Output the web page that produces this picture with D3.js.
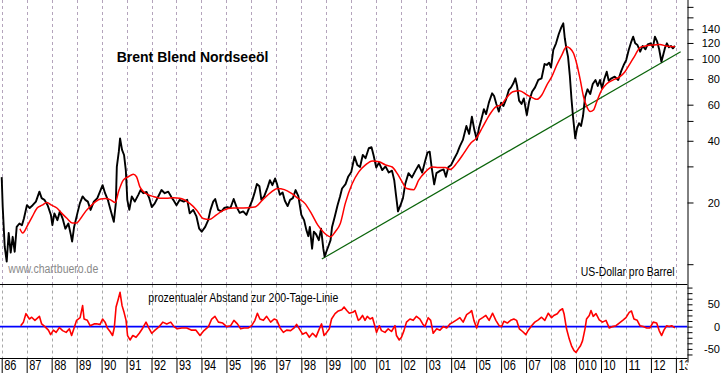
<!DOCTYPE html>
<html><head><meta charset="utf-8">
<script src="https://cdn.jsdelivr.net/npm/d3@7"></script>
<style>html,body{margin:0;padding:0;background:#fff;overflow:hidden}svg{display:block}</style>
</head><body><svg id="c" width="723" height="373"></svg>
<script>
// ---- data (decimal year, value) ----
const priceSeries = [
[1986.00,26.6],[1986.04,19.1],[1986.12,12.2],[1986.20,10.3],[1986.28,14.2],[1986.36,11.4],[1986.44,13.6],[1986.52,11.5],[1986.60,15.2],[1986.71,15.8],
[1986.81,15.5],[1986.89,16.7],[1987.01,19.4],[1987.12,18.8],[1987.24,19.4],[1987.37,20.2],[1987.51,22.6],[1987.60,21.0],[1987.71,20.6],[1987.84,19.4],
[1987.97,17.4],[1988.03,15.5],[1988.11,17.7],[1988.23,16.4],[1988.33,18.1],[1988.44,16.7],[1988.55,14.9],[1988.67,15.8],[1988.77,13.9],[1988.82,12.9],
[1988.90,15.2],[1989.03,17.7],[1989.13,19.8],[1989.24,21.4],[1989.35,20.6],[1989.45,20.2],[1989.56,18.4],[1989.69,20.2],[1989.83,21.0],[1989.96,23.0],
[1990.04,24.3],[1990.14,22.2],[1990.25,20.6],[1990.36,18.4],[1990.49,16.1],[1990.57,19.8],[1990.61,29.8],[1990.69,35.4],[1990.74,41.1],[1990.82,36.1],
[1990.90,34.1],[1990.97,28.8],[1991.03,20.6],[1991.11,18.4],[1991.21,21.4],[1991.33,20.2],[1991.47,21.8],[1991.56,23.0],[1991.67,22.2],[1991.80,22.5],
[1991.91,21.0],[1992.01,19.0],[1992.13,19.8],[1992.27,21.4],[1992.40,23.0],[1992.53,22.2],[1992.67,22.6],[1992.80,21.2],[1992.87,20.6],[1993.00,19.4],
[1993.13,20.6],[1993.29,20.2],[1993.43,20.6],[1993.53,17.7],[1993.67,18.4],[1993.80,17.1],[1993.91,14.9],[1994.01,14.4],[1994.15,15.2],[1994.27,16.4],
[1994.36,18.4],[1994.47,20.2],[1994.55,20.8],[1994.67,18.4],[1994.80,18.1],[1994.91,18.8],[1995.03,19.0],[1995.16,18.8],[1995.29,20.8],[1995.40,19.1],
[1995.53,17.8],[1995.67,18.1],[1995.80,17.4],[1995.93,19.1],[1996.04,20.6],[1996.14,22.6],[1996.22,24.6],[1996.32,24.0],[1996.40,20.6],[1996.51,21.4],
[1996.65,23.7],[1996.74,25.7],[1996.84,24.3],[1996.95,26.2],[1997.03,24.5],[1997.14,21.8],[1997.25,22.4],[1997.34,20.4],[1997.45,19.2],[1997.55,20.6],
[1997.66,21.0],[1997.77,23.0],[1997.88,21.5],[1998.00,17.4],[1998.11,16.4],[1998.20,14.7],[1998.28,13.7],[1998.34,15.2],[1998.43,11.9],[1998.50,14.4],
[1998.59,14.0],[1998.70,13.1],[1998.79,14.9],[1998.88,11.9],[1998.93,10.9],[1999.00,11.5],[1999.08,12.2],[1999.17,13.1],[1999.23,15.2],[1999.34,17.1],
[1999.45,19.4],[1999.55,21.4],[1999.63,23.4],[1999.77,24.6],[1999.88,26.8],[2000.00,28.2],[2000.13,33.5],[2000.24,30.5],[2000.35,29.8],[2000.46,34.1],
[2000.57,32.9],[2000.70,36.8],[2000.81,37.2],[2000.89,34.1],[2001.00,29.6],[2001.11,31.3],[2001.24,28.8],[2001.37,30.0],[2001.50,28.0],[2001.63,28.6],
[2001.72,25.7],[2001.79,21.8],[2001.87,18.1],[2001.97,19.4],[2002.07,21.0],[2002.16,24.6],[2002.29,27.8],[2002.43,26.5],[2002.57,28.6],[2002.70,30.5],
[2002.84,28.0],[2002.95,31.6],[2003.05,35.0],[2003.14,35.4],[2003.22,29.6],[2003.32,24.5],[2003.41,27.8],[2003.57,28.6],[2003.70,29.0],[2003.79,26.7],
[2003.89,29.8],[2004.00,30.5],[2004.11,32.5],[2004.24,34.8],[2004.35,37.7],[2004.47,40.4],[2004.61,47.2],[2004.72,43.2],[2004.83,52.4],[2004.93,45.1],
[2005.03,40.4],[2005.11,46.0],[2005.21,50.9],[2005.31,57.0],[2005.40,54.0],[2005.51,61.4],[2005.64,68.2],[2005.72,66.1],[2005.81,60.5],[2005.91,55.5],
[2006.00,61.4],[2006.09,59.1],[2006.20,63.7],[2006.31,70.8],[2006.40,72.9],[2006.49,76.3],[2006.57,80.7],[2006.64,74.0],[2006.72,62.8],[2006.82,60.5],
[2006.91,64.4],[2007.03,53.4],[2007.12,62.0],[2007.24,69.4],[2007.36,72.9],[2007.49,79.2],[2007.62,80.7],[2007.74,94.7],[2007.83,93.7],[2007.92,96.2],
[2008.00,91.3],[2008.09,111],[2008.20,119.5],[2008.31,132.7],[2008.41,143],[2008.49,149.6],[2008.55,126.5],[2008.62,111.8],[2008.68,102.9],[2008.75,83.7],
[2008.82,63.7],[2008.88,52.4],[2008.97,41.1],[2009.04,46.0],[2009.12,48.7],[2009.20,47.2],[2009.28,52.8],[2009.36,65.2],[2009.46,71.3],[2009.57,67.7],
[2009.67,75.7],[2009.78,79.2],[2009.87,74.0],[2009.96,79.2],[2010.04,72.1],[2010.13,79.8],[2010.23,86.9],[2010.31,78.5],[2010.42,80.7],[2010.55,82.2],
[2010.69,79.2],[2010.80,86.9],[2010.91,93.7],[2011.01,99],[2011.11,111],[2011.20,120.4],[2011.29,128.8],[2011.37,119.5],[2011.46,117.3],[2011.57,108.8],
[2011.67,116],[2011.78,111.8],[2011.87,118.2],[2011.99,119.5],[2012.08,114.3],[2012.16,128.8],[2012.25,121.7],[2012.33,111.8],[2012.42,97.2],[2012.49,104.8],
[2012.57,114.3],[2012.64,119.5],[2012.72,114.3],[2012.80,116],[2012.88,113],[2012.96,116]
];
const maSeries = [
[1986.73,14.9],[1986.84,14.2],[1987.04,15.5],[1987.23,17.1],[1987.42,18.8],[1987.62,19.4],[1987.81,20.0],[1988.00,19.4],[1988.21,18.8],[1988.41,17.7],
[1988.62,16.7],[1988.82,15.9],[1989.00,15.9],[1989.16,16.7],[1989.36,18.1],[1989.56,19.2],[1989.76,20.2],[1989.96,20.8],[1990.16,20.9],[1990.36,20.6],
[1990.55,20.0],[1990.68,22.6],[1990.87,25.7],[1991.07,26.7],[1991.27,27.5],[1991.40,26.7],[1991.53,23.9],[1991.67,22.6],[1991.87,21.8],[1992.07,21.4],
[1992.33,21.0],[1992.60,21.0],[1992.87,21.1],[1993.13,21.0],[1993.53,19.8],[1993.80,18.4],[1994.07,16.7],[1994.31,16.5],[1994.60,17.4],[1994.87,18.3],
[1995.27,18.8],[1995.67,18.8],[1996.13,19.0],[1996.45,20.6],[1996.78,22.4],[1997.04,23.4],[1997.32,23.1],[1997.59,22.2],[1997.86,21.0],[1998.14,19.8],
[1998.40,17.7],[1998.66,15.5],[1998.92,14.2],[1999.17,13.6],[1999.36,14.4],[1999.56,15.8],[1999.76,19.8],[2000.03,24.6],[2000.30,28.2],[2000.57,30.5],
[2000.84,31.9],[2001.11,31.6],[2001.37,30.5],[2001.64,29.8],[2001.83,27.8],[2002.03,25.3],[2002.22,23.4],[2002.50,23.1],[2002.70,25.7],[2002.97,28.2],
[2003.24,29.8],[2003.50,29.6],[2003.76,29.6],[2003.96,29.0],[2004.24,31.3],[2004.51,34.8],[2004.79,39.0],[2005.00,41.1],[2005.27,46.9],[2005.53,53.4],
[2005.80,58.7],[2006.00,59.8],[2006.20,64.4],[2006.47,69.4],[2006.73,70.2],[2007.04,66.9],[2007.31,64.4],[2007.43,63.7],[2007.63,66.9],[2007.83,74.8],
[2008.03,82.2],[2008.23,93.7],[2008.43,104.8],[2008.62,115],[2008.76,113],[2008.90,106.9],[2009.04,93.7],[2009.17,79.2],[2009.30,65.6],[2009.43,58.7],
[2009.57,55.5],[2009.70,56.5],[2009.83,62.0],[2010.03,70.8],[2010.22,75.7],[2010.49,79.2],[2010.76,82.2],[2010.96,86.9],[2011.17,95.5],[2011.37,104.8],
[2011.57,114.3],[2011.83,116.4],[2012.09,117.3],[2012.36,117.8],[2012.62,116],[2012.96,115]
];
const deviationSeries = [
[1986.76,2],[1986.87,10],[1986.97,29],[1987.11,17],[1987.20,21],[1987.33,14],[1987.51,23],[1987.60,6],[1987.73,0],[1987.87,-8],
[1987.96,-18],[1988.07,-8],[1988.18,-13],[1988.31,-2],[1988.44,-9],[1988.58,-13],[1988.71,-5],[1988.80,-20],[1988.90,-3],[1989.00,14],
[1989.14,20],[1989.24,47],[1989.30,17],[1989.43,14],[1989.54,2],[1989.70,6],[1989.83,6],[1989.94,5],[1990.04,17],[1990.14,10],
[1990.23,-3],[1990.34,-11],[1990.44,-20],[1990.51,-2],[1990.58,44],[1990.67,62],[1990.74,77],[1990.82,47],[1990.90,32],[1990.98,14],
[1991.04,-20],[1991.14,-30],[1991.25,-20],[1991.38,-24],[1991.51,-15],[1991.65,-3],[1991.78,10],[1991.89,-3],[1992.01,-15],[1992.14,-8],
[1992.31,0],[1992.45,10],[1992.61,6],[1992.77,10],[1992.90,0],[1993.03,-5],[1993.21,-3],[1993.41,-3],[1993.61,-8],[1993.78,-8],
[1993.94,-20],[1994.10,-9],[1994.28,0],[1994.41,17],[1994.54,23],[1994.68,10],[1994.85,8],[1995.01,0],[1995.17,2],[1995.30,14],
[1995.44,6],[1995.57,-5],[1995.70,-3],[1995.88,-3],[1996.01,2],[1996.14,14],[1996.24,30],[1996.34,17],[1996.48,14],[1996.61,23],
[1996.77,10],[1996.91,17],[1997.01,15],[1997.15,-3],[1997.28,-13],[1997.41,-8],[1997.57,-9],[1997.71,-3],[1997.81,5],[1997.92,-5],
[1998.05,-17],[1998.19,-13],[1998.32,-24],[1998.45,-15],[1998.59,-23],[1998.72,-5],[1998.81,6],[1998.91,-20],[1998.99,-15],[1999.12,-5],
[1999.21,17],[1999.35,29],[1999.48,35],[1999.62,38],[1999.71,44],[1999.82,36],[1999.92,30],[2000.06,32],[2000.15,36],[2000.28,14],
[2000.35,17],[2000.45,25],[2000.55,14],[2000.64,23],[2000.75,17],[2000.85,20],[2000.95,0],[2001.01,-13],[2001.12,2],[2001.21,-9],
[2001.35,-13],[2001.48,-5],[2001.61,-11],[2001.75,2],[2001.81,-20],[2001.92,-30],[2002.01,-24],[2002.11,-9],[2002.21,10],[2002.35,17],
[2002.48,14],[2002.61,23],[2002.75,17],[2002.86,6],[2002.95,0],[2003.08,20],[2003.18,14],[2003.28,-15],[2003.42,-5],[2003.55,-8],
[2003.68,0],[2003.82,-3],[2003.95,6],[2004.08,10],[2004.22,15],[2004.35,20],[2004.48,10],[2004.62,27],[2004.75,32],[2004.82,36],
[2004.91,14],[2005.02,-3],[2005.12,15],[2005.26,20],[2005.39,25],[2005.52,14],[2005.66,30],[2005.79,14],[2005.92,2],[2006.02,0],
[2006.11,12],[2006.25,8],[2006.38,14],[2006.51,17],[2006.62,14],[2006.73,-5],[2006.86,-11],[2006.99,-18],[2007.09,-8],[2007.22,2],
[2007.35,10],[2007.49,15],[2007.62,21],[2007.75,14],[2007.89,30],[2008.02,20],[2008.11,25],[2008.25,29],[2008.35,36],[2008.46,40],
[2008.52,29],[2008.62,-5],[2008.73,-28],[2008.82,-43],[2008.92,-54],[2009.00,-58],[2009.09,-50],[2009.18,-43],[2009.26,-32],[2009.36,-5],
[2009.42,17],[2009.53,25],[2009.60,36],[2009.69,23],[2009.80,29],[2009.93,15],[2010.06,10],[2010.20,14],[2010.33,-3],[2010.46,0],
[2010.60,2],[2010.73,8],[2010.87,14],[2011.00,20],[2011.13,32],[2011.22,35],[2011.32,17],[2011.45,14],[2011.56,2],[2011.69,0],
[2011.83,-3],[2011.96,-3],[2012.09,10],[2012.23,8],[2012.33,-9],[2012.43,-20],[2012.52,-8],[2012.63,2],[2012.73,0],[2012.83,2],
[2012.96,-3]
];
const trendSeries = [[1998.82,10.6],[2013.19,108.8]];
const yearTicks = d3.range(1986, 2014);
const yearLabels = ["86","87","88","89","90","91","92","93","94","95","96","97","98","99",
  "00","01","02","03","04","05","06","07","08","010","10","11","12","13"];
const priceTicks = [10,20,30,40,50,60,80,100,120,140,160,180];
const priceLabels = [20,40,60,80,100,120,140];
const devTicks = [-62.5,-50,-37.5,-25,-12.5,0,12.5,25,37.5,50,62.5,75,87.5];
const devLabels = [-50,0,50];

// ---- layout ----
const svg = d3.select("#c");
const W = 723, H = 373;
const axisX = 687.5, panelSplit = 284.5, bottomY = 358.5;
const x = d3.scaleLinear().domain([1986, 2013]).range([1.7, 675.9]);
const y = d3.scaleLog().domain([10, 100]).range([264.2, 59.2]);
const yd = d3.scaleLinear().domain([-50, 50]).range([348.9, 304.3]);
const FONT = "'Liberation Sans', Arial, sans-serif";

const defs = svg.append("defs");
defs.append("clipPath").attr("id","topClip").append("rect").attr("x",0).attr("y",0).attr("width",axisX).attr("height",panelSplit);
defs.append("clipPath").attr("id","botClip").append("rect").attr("x",0).attr("y",panelSplit).attr("width",axisX).attr("height",bottomY-panelSplit);
defs.append("clipPath").attr("id","lblClip").append("rect").attr("x",0).attr("y",0).attr("width",axisX).attr("height",H);

// grid lines
svg.append("g").selectAll("line").data(yearTicks).join("line")
  .attr("x1", d => Math.round(x(d)) + 0.5).attr("x2", d => Math.round(x(d)) + 0.5)
  .attr("y1", 0).attr("y2", panelSplit)
  .attr("stroke", "#b4a4bc").attr("stroke-width", 1).attr("stroke-dasharray", "3,3");
svg.append("g").selectAll("line").data(yearTicks).join("line")
  .attr("x1", d => Math.round(x(d)) + 0.5).attr("x2", d => Math.round(x(d)) + 0.5)
  .attr("y1", panelSplit).attr("y2", bottomY)
  .attr("stroke", "#a8a8a8").attr("stroke-width", 1).attr("stroke-dasharray", "3,3");

// top panel lines
const line = d3.line().x(d => x(d[0])).y(d => y(d[1]));
const topG = svg.append("g").attr("clip-path","url(#topClip)");
topG.append("path").datum(trendSeries).attr("d", line).attr("fill","none").attr("stroke","#0a640a").attr("stroke-width",1.2);
topG.append("path").datum(priceSeries).attr("d", line).attr("fill","none").attr("stroke","#000").attr("stroke-width",1.9).attr("stroke-linejoin","round");
topG.append("path").datum(maSeries).attr("d", d3.line().curve(d3.curveMonotoneX).x(d => x(d[0])).y(d => y(d[1])))
  .attr("fill","none").attr("stroke","#ff0000").attr("stroke-width",1.5);

// bottom panel
const botG = svg.append("g").attr("clip-path","url(#botClip)");
botG.append("line").attr("x1",0).attr("x2",axisX).attr("y1",yd(0)).attr("y2",yd(0)).attr("stroke","#0000ff").attr("stroke-width",1.6);
botG.append("path").datum(deviationSeries).attr("d", d3.line().x(d => x(d[0])).y(d => yd(d[1])))
  .attr("fill","none").attr("stroke","#ff0000").attr("stroke-width",1.6).attr("stroke-linejoin","round");

// frame lines
svg.append("line").attr("x1",0).attr("x2",axisX).attr("y1",panelSplit).attr("y2",panelSplit).attr("stroke","#000");
svg.append("line").attr("x1",0).attr("x2",axisX).attr("y1",bottomY).attr("y2",bottomY).attr("stroke","#000");

// right axis top (log)
const ra = svg.append("g").attr("transform",`translate(${axisX},0)`)
  .call(d3.axisRight(y).tickValues(priceTicks).tickSize(6).tickSizeOuter(0)
    .tickFormat(d => priceLabels.includes(d) ? String(d) : ""));
ra.select(".domain").attr("d", `M0.5,0V${panelSplit}`);
// right axis bottom (deviation)
const rb = svg.append("g").attr("transform",`translate(${axisX},0)`)
  .call(d3.axisRight(yd).tickValues(devTicks).tickSize(5).tickSizeOuter(0)
    .tickFormat(d => devLabels.includes(d) ? String(d) : ""));
rb.select(".domain").attr("d", `M0.5,${panelSplit}V${bottomY+4}`);
[ra, rb].forEach(g => {
  g.selectAll(".domain").attr("stroke","#000");
  g.selectAll(".tick line").attr("stroke","#000");
  g.selectAll(".tick text").attr("x", 720 - axisX).attr("text-anchor","end")
    .attr("font-family", FONT).attr("font-size", 11).attr("fill","#000");
});

// bottom time axis
const xa = svg.append("g").attr("clip-path","url(#lblClip)").append("g").attr("transform",`translate(0,${bottomY})`)
  .call(d3.axisBottom(x).tickValues(yearTicks).tickSize(14.5).tickSizeOuter(0)
    .tickFormat((d,i) => yearLabels[i]));
xa.select(".domain").remove();
xa.selectAll(".tick line").attr("stroke","#000");
xa.selectAll(".tick text").attr("x", 2).attr("y", 11.4).attr("dy", 0)
  .attr("text-anchor","start").attr("font-family", FONT).attr("font-size", 14).attr("fill","#000")
  .attr("textLength", (d,i) => yearLabels[i].length * 6.1).attr("lengthAdjust","spacingAndGlyphs");

// texts
svg.append("text").attr("x",116.7).attr("y",62.3).attr("font-family",FONT).attr("font-weight","bold")
  .attr("font-size",14).attr("fill","#000").text("Brent Blend Nordseeöl");
svg.append("text").attr("x",8.3).attr("y",273.3).attr("font-family",FONT).attr("font-size",12)
  .attr("fill","#8a8a8a").attr("textLength",90).attr("lengthAdjust","spacingAndGlyphs").text("www.chartbuero.de");
svg.append("text").attr("x",580.7).attr("y",275.7).attr("font-family",FONT).attr("font-size",12)
  .attr("fill","#000").attr("textLength",94).attr("lengthAdjust","spacingAndGlyphs").text("US-Dollar pro Barrel");
svg.append("text").attr("x",148.3).attr("y",301.7).attr("font-family",FONT).attr("font-size",12)
  .attr("fill","#000").attr("textLength",190).attr("lengthAdjust","spacingAndGlyphs").text("prozentualer Abstand zur 200-Tage-Linie");
</script>
</body></html>
